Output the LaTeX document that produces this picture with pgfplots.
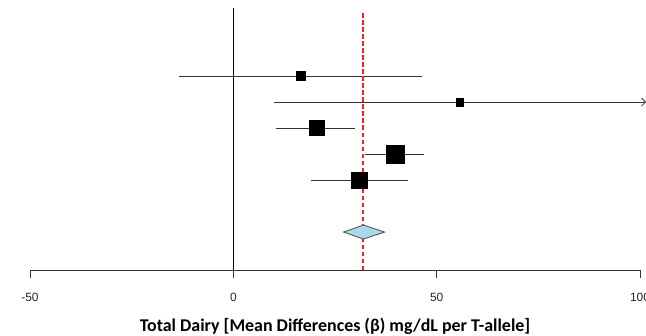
\documentclass[border=0pt]{standalone}
\usepackage{fontspec}
\setmainfont{Liberation Sans}
\newfontfamily\carlito{Carlito}
\usepackage{pgfplots}
\pgfplotsset{compat=1.18}
\usetikzlibrary{arrows.meta}
\definecolor{diam}{HTML}{A9D9E8}
\definecolor{refline}{HTML}{F0202E}
\begin{document}
\begin{tikzpicture}
\begin{axis}[
 scale only axis, width=610bp, height=262bp,
 xmin=-50, xmax=100, ymin=-0.46, ymax=9.62,
 axis x line=bottom, axis y line=none,
 x axis line style={-, line width=0.8bp, color=black!80},
 xtick={-50,0,50,100}, xticklabels={-50,0,50,100},
 tick align=outside, major tick length=8bp,
 tick style={line width=0.8bp, color=black!80},
 xticklabel style={font=\fontsize{12}{14}\selectfont, text=black!85, anchor=center, yshift=-19bp},
 xlabel={Total Dairy [Mean Differences (β) mg/dL per T-allele]},
 xlabel style={font=\carlito\bfseries\fontsize{18}{21}\selectfont, at={(axis description cs:0.5,0)}, anchor=center, yshift=-56bp},
 clip=false,
]
\addplot[black, line width=0.8bp] coordinates {(0,-0.46) (0,9.62)};
\addplot[black!80, line width=0.8bp] coordinates {(-13.3,7) (46.3,7)};
\addplot[black!80, line width=0.8bp, -{Straight Barb[length=4bp,width=8bp]}] coordinates {(9.9,6) (101.5,6)};
\addplot[black!80, line width=0.8bp] coordinates {(10.6,5) (30.0,5)};
\addplot[black!80, line width=0.8bp] coordinates {(32.3,4) (47.0,4)};
\addplot[black!80, line width=0.8bp] coordinates {(19.2,3) (42.9,3)};
\addplot[refline, line width=2bp, dash pattern=on 4.5bp off 2.5bp] coordinates {(32,-0.46) (32,9.42)};
\addplot[only marks, mark=square*, mark size=4.5bp, black] coordinates {(16.5,7)};
\addplot[only marks, mark=square*, mark size=3.8bp, black] coordinates {(55.7,6)};
\addplot[only marks, mark=square*, mark size=7.5bp, black] coordinates {(20.4,5)};
\addplot[only marks, mark=square*, mark size=9bp, black] coordinates {(39.9,4)};
\addplot[only marks, mark=square*, mark size=7.8bp, black] coordinates {(31.0,3)};
\addplot[fill=diam, draw=black!70, line width=0.8bp] coordinates {(27.1,1) (32,1.27) (37.2,1) (32,0.73)} -- cycle;
\end{axis}
\pgfresetboundingbox
\path (-30bp,-66bp) rectangle (616bp,270bp);
\end{tikzpicture}
\end{document}
